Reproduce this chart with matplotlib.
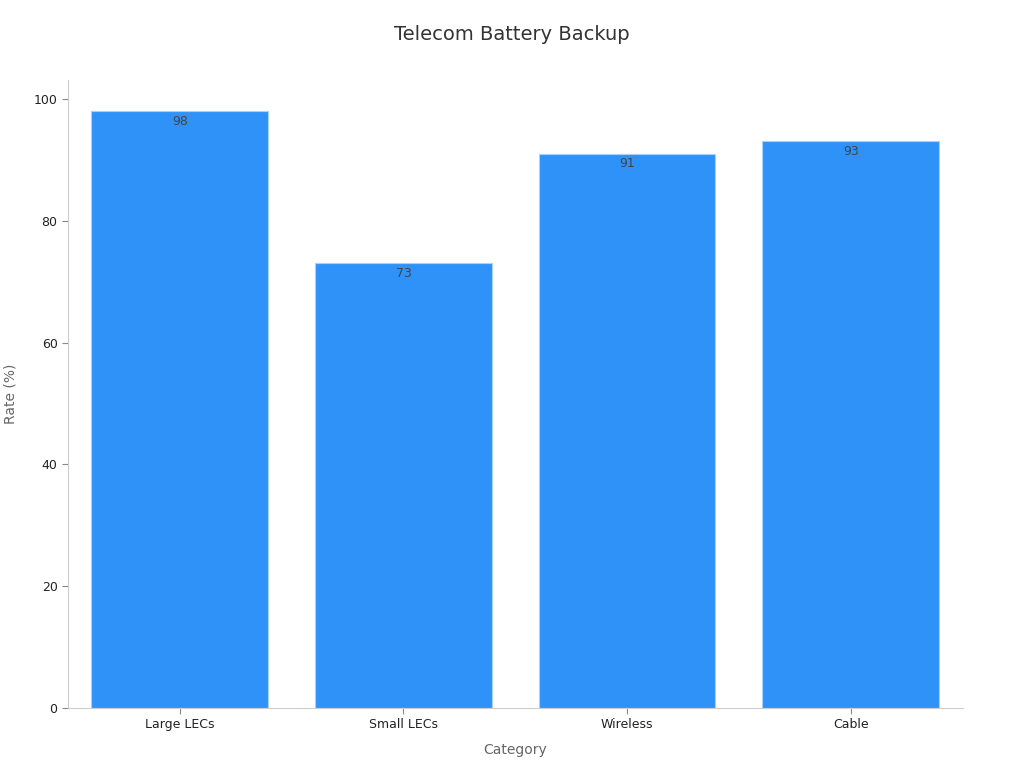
import matplotlib
matplotlib.use("Agg")
import matplotlib.pyplot as plt

categories = ["Large LECs", "Small LECs", "Wireless", "Cable"]
rates = [98, 73, 91, 93]

fig = plt.figure(figsize=(10.24, 7.68), dpi=100)
ax = fig.add_axes([0.0664, 0.0781, 0.8736, 0.8178])

bars = ax.bar(range(len(categories)), rates, width=0.79, color="#2f92f8",
              edgecolor="#a8d0fb", linewidth=0.8)
for b, v in zip(bars, rates):
    ax.text(b.get_x() + b.get_width() / 2, v - 0.6, str(v), ha="center", va="top",
            fontsize=9, color="#444444")

ax.set_xlim(-0.5, 3.5)
ax.set_ylim(0, 103.1)
ax.set_xticks(range(len(categories)))
ax.set_xticklabels(categories)
ax.set_yticks([0, 20, 40, 60, 80, 100])
ax.tick_params(labelsize=9, colors="#222222", length=4)
ax.tick_params(axis="both", color="#888888")

for s in ["top", "right"]:
    ax.spines[s].set_visible(False)
for s in ["left", "bottom"]:
    ax.spines[s].set_color("#cccccc")

ax.set_xlabel("Category", fontsize=10, color="#666666", labelpad=8)
ax.set_ylabel("Rate (%)", fontsize=10, color="#666666", labelpad=12)
fig.suptitle("Telecom Battery Backup", fontsize=14, color="#333333", y=0.968)

fig.savefig("out.png", dpi=100)
